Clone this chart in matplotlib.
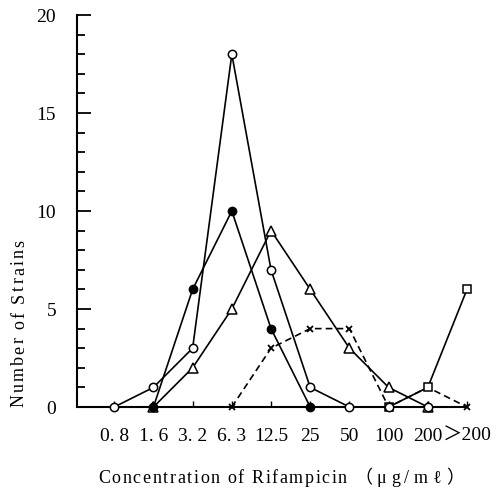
import numpy as np
import matplotlib.pyplot as plt
from matplotlib.font_manager import FontProperties

plt.rcParams['font.family'] = ['Liberation Serif', 'DejaVu Serif', 'Noto Sans CJK JP']

conc_labels = ['0. 8', '1. 6', '3. 2', '6. 3', '12.5', '25', '50', '100', '200', '＞200']

# (category index, number of strains) for each series
open_x = [0, 1, 2, 3, 4, 5, 6, 7, 8]
open_y = [0, 1, 3, 18, 7, 1, 0, 0, 0]

filled_x = [1, 2, 3, 4, 5]
filled_y = [0, 6, 10, 4, 0]

tri_x = [1, 2, 3, 4, 5, 6, 7, 8]
tri_y = [0, 2, 5, 9, 6, 3, 1, 0]

cross_x = [3, 4, 5, 6, 7, 8, 9]
cross_y = [0, 3, 4, 4, 0, 1, 0]

sq_x = [7, 8, 9]
sq_y = [0, 1, 6]

W, H = 499, 492
fig = plt.figure(figsize=(W / 100, H / 100), dpi=100)
ax = fig.add_axes([77/W, 85/H, 390/W, 392/H])

lw = 1.2
ms = 6
ax.plot(cross_x, cross_y, '--', color='black', lw=lw, marker='x', ms=5, mew=1.3,
        dashes=(4, 2.5), clip_on=False, zorder=3)
ax.plot(sq_x, sq_y, '-', color='black', lw=lw, marker='s', ms=ms, mfc='white',
        mew=1.1, clip_on=False, zorder=3)
ax.plot(tri_x, tri_y, '-', color='black', lw=lw, marker='^', ms=7, mfc='white',
        mew=1.1, clip_on=False, zorder=4)
ax.plot(filled_x, filled_y, '-', color='black', lw=lw, marker='o', ms=ms,
        mfc='black', clip_on=False, zorder=4)
ax.plot(open_x, open_y, '-', color='black', lw=lw, marker='o', ms=ms, mfc='white',
        mew=1.1, clip_on=False, zorder=5)

ax.set_xlim(-0.95, 9)
ax.set_ylim(0, 20)
ax.spines['top'].set_visible(False)
ax.spines['right'].set_visible(False)
ax.spines['left'].set_linewidth(1.5)
ax.spines['bottom'].set_linewidth(1.5)

ax.set_xticks(np.arange(len(conc_labels)))
ax.set_xticklabels(conc_labels, fontsize=14)
ax.tick_params(axis='x', direction='in', length=4, width=1, pad=15)

ax.set_yticks([0, 5, 10, 15, 20])
ax.set_yticks(np.arange(0, 21), minor=True)
ax.tick_params(axis='y', which='major', direction='in', length=10, width=1.3,
               labelsize=14, pad=15)
ax.tick_params(axis='y', which='minor', direction='in', length=6, width=1.3)

# letter-spaced labels like the typeset original
renderer = fig.canvas.get_renderer()
prop = FontProperties(family=['Liberation Serif', 'DejaVu Serif', 'Noto Sans CJK JP'],
                      size=13)


def tracked_text(s, x0, y0, length, vertical=False):
    widths = [renderer.get_text_width_height_descent(ch, prop, ismath=False)[0] for ch in s]
    track = (length - sum(widths)) / (len(s) - 1)
    pos = 0.0
    for ch, w in zip(s, widths):
        if ch != ' ':
            if vertical:
                fig.text(x0 / W, 1 - (y0 - pos) / H, ch, rotation=90,
                         rotation_mode='anchor', ha='left', va='baseline',
                         fontproperties=prop)
            else:
                fig.text((x0 + pos) / W, 1 - y0 / H, ch, ha='left',
                         va='baseline', fontproperties=prop)
        pos += w + track


tracked_text('Number of Strains', 24, 407, 167, vertical=True)
tracked_text('Concentration of Rifampicin', 98, 483, 249)
tracked_text('（μg/mℓ）', 354, 483, 110)

fig.savefig('out.png', dpi=100)
